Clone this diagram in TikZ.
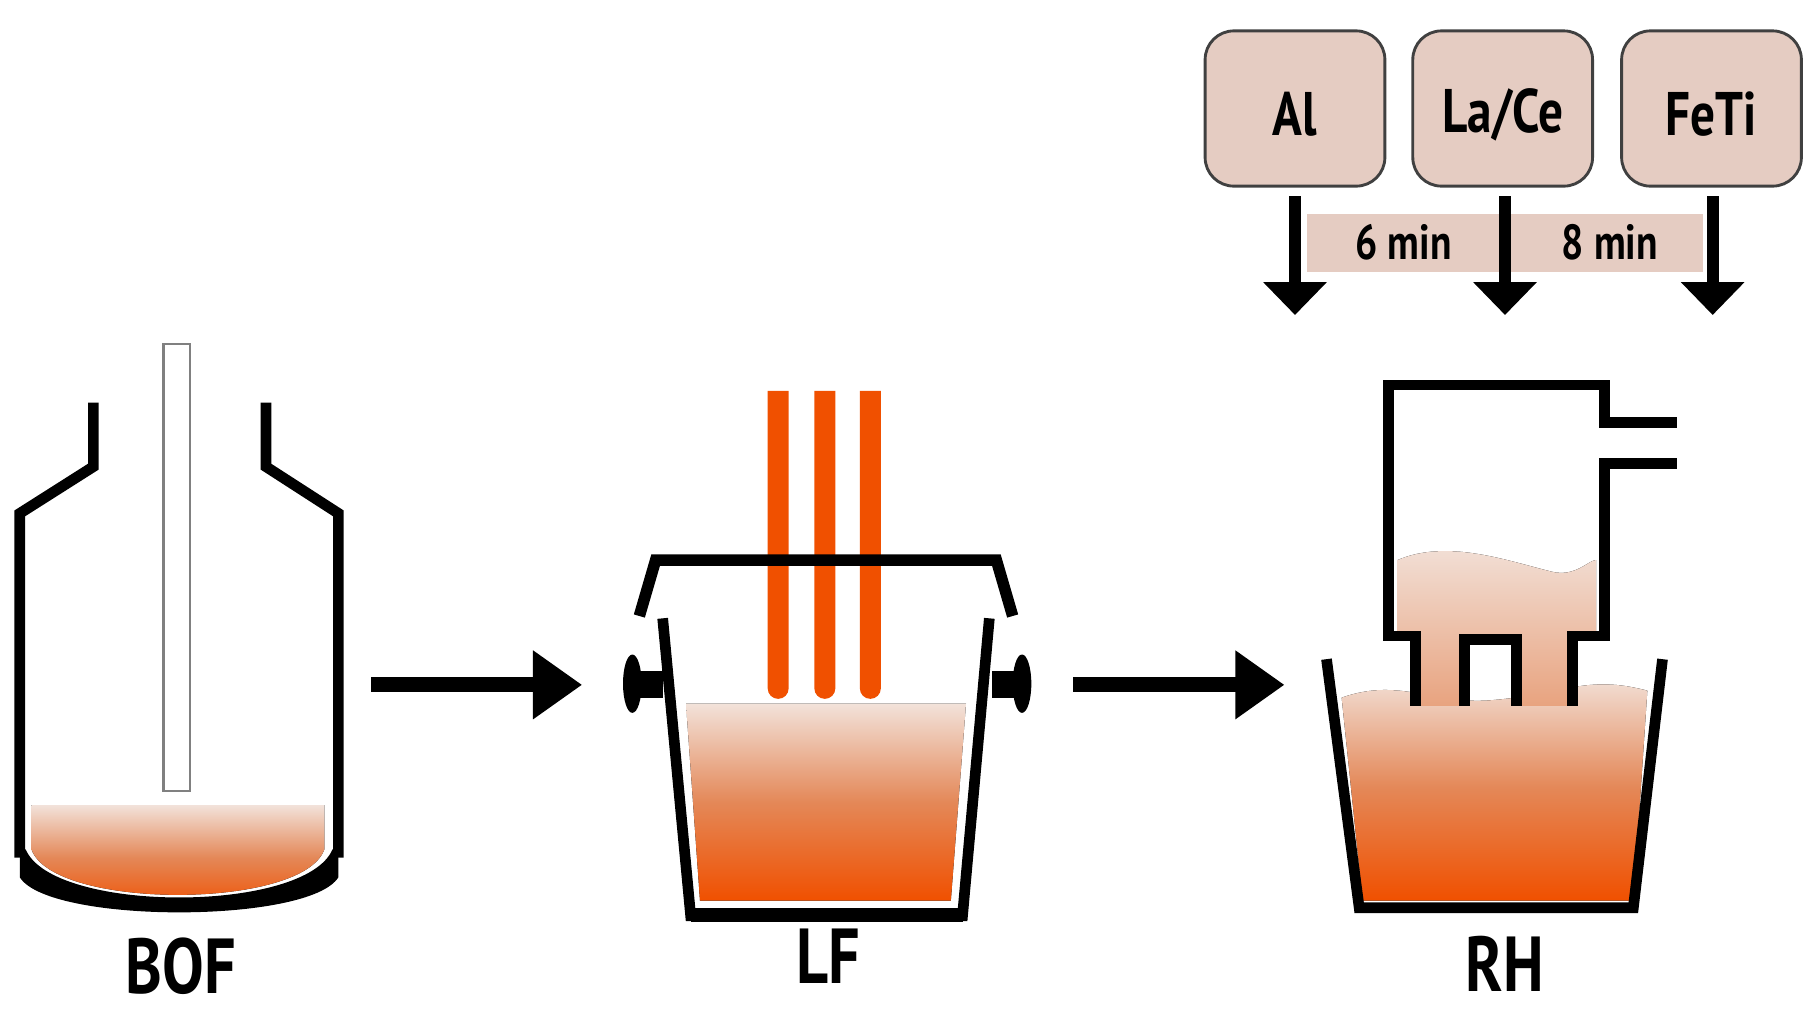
\documentclass[tikz,border=0pt]{standalone}
\usepackage{fontspec}
\setmainfont{PT Sans}
\usetikzlibrary{arrows.meta}
\begin{document}
\begin{tikzpicture}[x=0.01cm,y=-0.01cm,
  wall/.style={line width=2.6pt,line join=miter},
  liq/.style={top color=liqtop,bottom color=liqbot,draw=none,middle color=liqmid},
  big/.style={font=\bfseries\fontsize{19}{22}\selectfont,xscale=0.8},
  lbl/.style={font=\bfseries\fontsize{15}{18}\selectfont,xscale=0.8},
  mn/.style={font=\bfseries\fontsize{12}{14}\selectfont,xscale=0.8},
  flow/.style={line width=3.6pt,-{Triangle[length=12pt,width=16pt]}},
  drop/.style={line width=3pt,-{Triangle[length=8pt,width=15pt]}}]
\definecolor{liqtop}{HTML}{F2E2DA}
\definecolor{liqmid}{HTML}{E48858}
\definecolor{liqbot}{HTML}{F05000}
\definecolor{boxfill}{HTML}{E5CCC2}
\definecolor{boxline}{HTML}{404040}
\definecolor{elec}{HTML}{F05000}
\useasboundingbox (0,0) rectangle (1560,869);
% boxes
\foreach \n/\x/\t in {al/1110/Al,lace/1288/{La/Ce},feti/1467/FeTi}{
  \node[draw=boxline,fill=boxfill,line width=0.7pt,rounded corners=7pt,minimum width=1.54cm,minimum height=1.33cm,inner sep=0pt] (\n) at (\x,93) {};
  \node[lbl] at (\x,98) {\t};
}
\fill[boxfill] (1120,183) rectangle (1460,233);
\node[mn] (t6) at (1203,208) {6 min};
\node[mn] (t8) at (1380,208) {8 min};
\foreach \n/\x in {al/1110,lace/1290,feti/1468}{
  \coordinate (\n e) at (\x,270);
  \draw[drop] (\x,168) -- (\n e);
}
% BOF
\fill[liq] (27,690) -- (278,690) -- (278,728) .. controls (260,780) and (45,780) .. (27,728) -- cycle;
\draw[gray,line width=0.6pt] (140,295) rectangle (163,678);
\draw[wall] (80,345) -- (80,400) -- (17,440) -- (17,735);
\draw[wall] (228,345) -- (228,400) -- (290,440) -- (290,735);
\fill (17,728) -- (22,728) .. controls (45,783) and (262,783) .. (285,728) -- (290,728) -- (290,752) .. controls (265,792) and (42,792) .. (17,752) -- cycle;
\node[big] (bof) at (155,828) {BOF};
% arrows
\coordinate (a1s) at (318,587); \coordinate (a1e) at (499,587);
\draw[flow] (a1s) -- (a1e);
\coordinate (a2s) at (920,587); \coordinate (a2e) at (1101,587);
\draw[flow] (a2s) -- (a2e);
% LF
\fill[liq] (588,603) -- (828,603) -- (815,772) -- (600,772) -- cycle;
\foreach \x in {667,707,746}{
  \fill[elec] (\x-9,335) -- (\x+9,335) -- (\x+9,590) arc (0:180:9) -- cycle;
}
\draw[line width=2.8pt] (548,528) -- (562,480) -- (854,480) -- (868,528);
\draw[wall] (568,530) -- (592,785) -- (825,785) -- (848,530);
\fill (592,778) rectangle (825,790);
\fill (540,575) rectangle (568,598);
\fill (542,586) ellipse (8 and 25);
\fill (850,575) rectangle (878,598);
\fill (876,586) ellipse (8 and 25);
\node[big] (lf) at (710,820) {LF};
% RH
\fill[liq] (1150,598) .. controls (1200,580) and (1230,605) .. (1280,600) .. controls (1340,595) and (1360,578) .. (1412,592) -- (1400,772) -- (1168,772) -- cycle;
\fill[top color=liqtop,bottom color=liqmid!70!liqtop] (1198,480) .. controls (1240,462) and (1290,480) .. (1330,490) .. controls (1350,495) and (1362,480) .. (1368,480) -- (1368,545) -- (1348,545) -- (1348,605) -- (1300,605) -- (1300,548) -- (1255,548) -- (1255,605) -- (1213,605) -- (1213,545) -- (1198,545) -- cycle;
\draw[wall] (1213,605) -- (1213,545) -- (1190,545) -- (1190,330) -- (1375,330) -- (1375,362) -- (1437,362);
\draw[wall] (1437,397) -- (1375,397) -- (1375,545) -- (1348,545) -- (1348,605);
\draw[wall] (1255,605) -- (1255,548) -- (1300,548) -- (1300,605);
\draw[wall] (1137,565) -- (1165,778) -- (1400,778) -- (1425,565);
\node[big] (rh) at (1290,826) {RH};
\end{tikzpicture}
\end{document}
